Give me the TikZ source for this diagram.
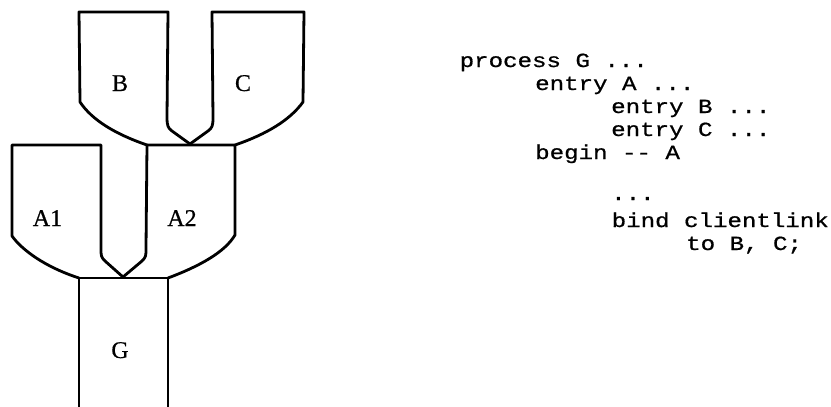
\documentclass[tikz,border=0pt]{standalone}
\usepackage{fontspec}
\setmainfont{Liberation Serif}
\newfontfamily\labelfont[FakeBold=0.6]{Liberation Serif}
\newfontfamily\codefont[FakeStretch=1.2,FakeBold=0.8]{Liberation Mono}
\begin{document}
\begin{tikzpicture}[x=1pt,y=-1pt,
  outline/.style={line width=2.8pt,line join=round,line cap=round},
  lbl/.style={font=\labelfont\fontsize{24}{24}\selectfont,inner sep=0pt,anchor=base},
  code/.style={font=\codefont\fontsize{20.1}{20}\selectfont,inner sep=0pt,anchor=base west}]
\useasboundingbox (0,0) rectangle (831,407);
% B
\draw[outline] (147,145) .. controls (115,134) and (92,120) .. (80,102) -- (79,12) -- (168,12)
  -- (167,117) .. controls (167,126) and (168,128) .. (172,131) -- (190,144);
% C
\draw[outline] (235,145) .. controls (267,134) and (290,120) .. (303,102) -- (304,12) -- (212,12)
  -- (213,118) .. controls (213,126) and (212,128) .. (208,131) -- (190,144);
% A2
\draw[outline] (147,145) -- (235,145) -- (235,235) .. controls (225,252) and (200,266) .. (168,278);
\draw[outline] (147,145) -- (146,248) .. controls (146,256) and (146,257) .. (142,261) -- (123,277);
% A1
\draw[outline] (79,278) .. controls (45,267) and (22,250) .. (12,236) -- (12,145) -- (101,145)
  -- (101,248) .. controls (101,256) and (101,257) .. (105,261) -- (123,277);
% G
\draw[outline] (79,407) -- (79,278) -- (168,278) -- (168,407);
% labels
\node[lbl] (lB) at (120,91) {B};
\node[lbl] (lC) at (243,91) {C};
\node[lbl] (lA1) at (47.5,226) {A1};
\node[lbl] (lA2) at (182,226) {A2};
\node[lbl] (lG) at (120,358) {G};
% code
\node[code] (c1) at (459.5,67) {process G ...};
\node[code] (c2) at (535,90) {entry A ...};
\node[code] (c3) at (611,113) {entry B ...};
\node[code] (c4) at (611,136) {entry C ...};
\node[code] (c5) at (535,159) {begin -- A};
\node[code] (c6) at (611,200) {...};
\node[code] (c7) at (611.5,227) {bind clientlink};
\node[code] (c8) at (686,250) {to B, C;};
\end{tikzpicture}
\end{document}
